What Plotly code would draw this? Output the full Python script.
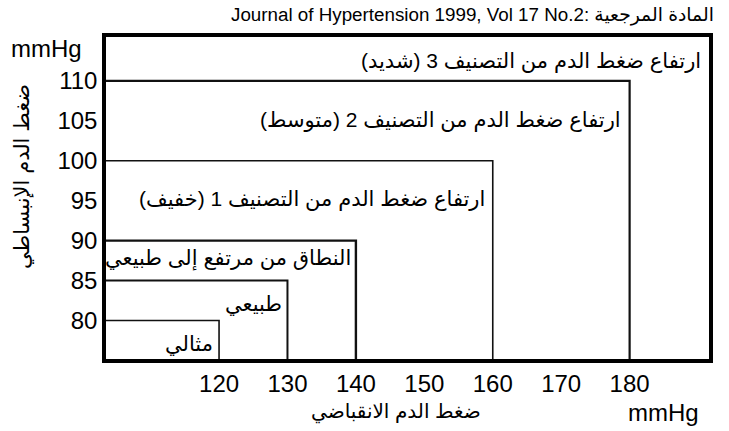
import plotly.graph_objects as go

# Data
categories = ["مثالي", "طبيعي", "النطاق من مرتفع إلى طبيعي",
              "ارتفاع ضغط الدم من التصنيف 1 (خفيف)",
              "ارتفاع ضغط الدم من التصنيف 2 (متوسط)",
              "ارتفاع ضغط الدم من التصنيف 3 (شديد)"]
systolic = [120, 130, 140, 160, 180, None]
diastolic = [80, 85, 90, 100, 110, None]
x_ticks = [120, 130, 140, 150, 160, 170, 180]
y_ticks = [80, 85, 90, 95, 100, 105, 110]

X_RANGE = [103.48, 191.6]
Y_RANGE = [75.18, 115.5]

FONT = "Liberation Sans, Arial, DejaVu Sans, sans-serif"
W, H = 729, 431
ML, MR, MT, MB = 106, 20, 37, 72
plot_w = W - ML - MR
plot_h = H - MT - MB


def px_x(px):
    return (px - ML) / plot_w


def px_y(py):
    return (H - MB - py) / plot_h


fig = go.Figure()

line_widths = [1.6, 2, 2.4, 1.6, 2.2]
for s, d, lw in zip(systolic, diastolic, line_widths):
    if s is None:
        continue
    fig.add_trace(go.Scatter(
        x=[X_RANGE[0], s, s], y=[d, d, Y_RANGE[0]],
        mode="lines", line=dict(color="#111", width=lw),
        hoverinfo="skip", showlegend=False))

# label offsets (pixels) from each box's top-right corner: (dx, dy)
label_offsets = [(-4, -23), (-3, -23), (-3, -18), (-6, -38), (-7, -39), (-6, -24)]
for cat, s, d, (dx, dy) in zip(categories, systolic, diastolic, label_offsets):
    xs = s if s is not None else X_RANGE[1]
    ys = d if d is not None else Y_RANGE[1]
    fig.add_annotation(x=xs, y=ys, xref="x", yref="y", text=cat,
                       showarrow=False, xanchor="right", yanchor="middle",
                       xshift=dx, yshift=dy,
                       font=dict(size=21, color="black", family=FONT))

fig.add_annotation(x=px_x(716), y=px_y(15), xref="paper", yref="paper",
                   text="Journal of Hypertension 1999, Vol 17 No.2: المادة المرجعية",
                   showarrow=False, xanchor="right", yanchor="middle",
                   font=dict(size=18.8, color="black", family=FONT))
fig.add_annotation(x=px_x(84), y=px_y(49), xref="paper", yref="paper", text="mmHg",
                   showarrow=False, xanchor="right", yanchor="middle",
                   font=dict(size=24, family=FONT, color="black"))
fig.add_annotation(x=px_x(663), y=px_y(412), xref="paper", yref="paper", text="mmHg",
                   showarrow=False, xanchor="center", yanchor="middle",
                   font=dict(size=24, family=FONT, color="black"))
fig.add_annotation(x=px_x(396), y=px_y(412), xref="paper", yref="paper", text="ضغط الدم الانقباضي",
                   showarrow=False, xanchor="center", yanchor="middle",
                   font=dict(size=20, family=FONT, color="black"))
fig.add_annotation(x=px_x(22), y=px_y(177), xref="paper", yref="paper", text="ضغط الدم الإنبساطي",
                   showarrow=False, xanchor="center", yanchor="middle", textangle=-90,
                   font=dict(size=21, family=FONT, color="black"))

fig.update_layout(
    width=W, height=H,
    margin=dict(l=ML, r=MR, t=MT, b=MB, pad=0),
    paper_bgcolor="white", plot_bgcolor="white",
    font=dict(family=FONT, color="black", size=24),
    xaxis=dict(range=X_RANGE, tickvals=x_ticks, ticks="", showgrid=False, zeroline=False,
               showline=True, linecolor="black", linewidth=3.5, mirror=True,
               tickfont=dict(size=24), fixedrange=True),
    yaxis=dict(range=Y_RANGE, tickvals=y_ticks, ticks="", showgrid=False, zeroline=False,
               showline=True, linecolor="black", linewidth=3.5, mirror=True,
               tickfont=dict(size=24), fixedrange=True),
)

fig.write_html("out.html", config={"displayModeBar": False},
               post_script="document.body.style.margin='0';document.body.style.padding='0';")
